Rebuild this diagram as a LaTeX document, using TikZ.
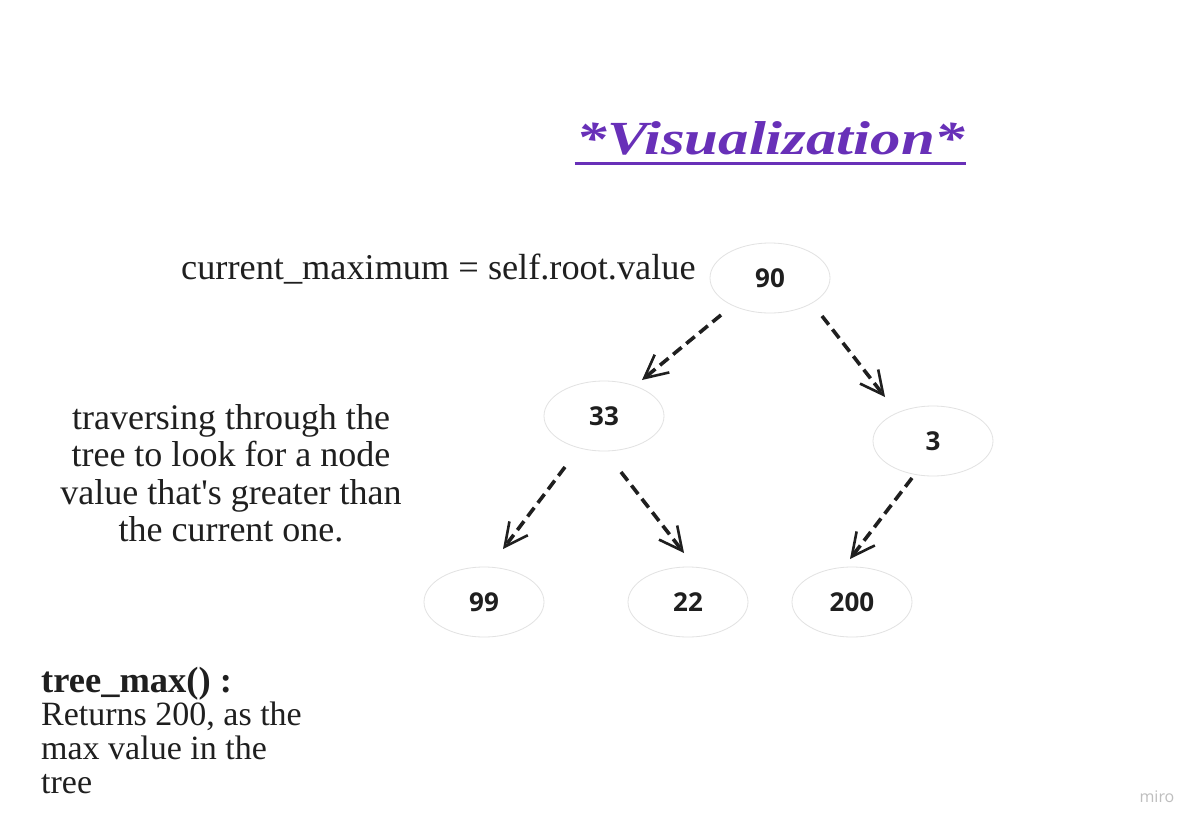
\documentclass[tikz,border=0pt]{standalone}
\usepackage{fontspec}
\setmainfont{Liberation Serif}
\newfontfamily\titlefont{Liberation Serif}[FakeStretch=1.28]
\newfontfamily\numfont{Open Sans}
\usetikzlibrary{arrows.meta,calc,shapes.geometric}
\definecolor{titlepurple}{RGB}{104,48,184}
\definecolor{ringgray}{RGB}{226,226,226}
\definecolor{wmgray}{RGB}{190,190,190}
\begin{document}
\begin{tikzpicture}[x=1pt,y=-1pt,
  treenode/.style={ellipse,draw=ringgray,line width=0.8pt,minimum width=120pt,minimum height=70pt,inner sep=0pt,
    font=\numfont\bfseries\fontsize{26}{30}\selectfont,text=black!88},
  link/.style={draw=black!88,line width=3.6pt,dash pattern=on 11pt off 6pt,
    -{Straight Barb[length=23pt,width=23pt,line width=2.6pt]}},
  plain/.style={inner sep=0pt,text=black!88}]
\useasboundingbox (0,0) rectangle (1203,830);
\fill[white] (0,0) rectangle (1203,830);
% title
\node[inner sep=0pt,anchor=base,text=titlepurple,font=\titlefont\bfseries\itshape\fontsize{47.5}{52}\selectfont] (title) at (771,154) {*Visualization*};
\draw[titlepurple,line width=3pt] ($(title.base west)+(-2,9)$) -- ($(title.base east)+(0,9)$);
% texts
\node[plain,anchor=base west,font=\fontsize{36.3}{40}\selectfont] (cur) at (181,279) {current\_maximum = self.root.value};
\node[plain,align=center,anchor=center,font=\fontsize{36}{37.5}\selectfont] (trav) at (231,473.5) {traversing through the\\tree to look for a node\\value that\textquotesingle s greater than\\the current one.};
\node[plain,anchor=base west,font=\bfseries\fontsize{36.5}{34}\selectfont] (tm) at (41,692) {tree\_max() :};
\node[plain,anchor=north west,align=left,font=\fontsize{34}{34}\selectfont] (ret) at ($(tm.base west)+(0,10)$) {Returns 200, as the\\max value in the\\tree};
\node[inner sep=0pt,text=wmgray,font=\numfont\fontsize{16}{18}\selectfont] (miro) at (1157,797) {miro};
% tree
\node[treenode] (n90) at (770,278) {90};
\node[treenode] (n33) at (604,416) {33};
\node[treenode] (n3) at (933,441) {3};
\node[treenode] (n99) at (484,602) {99};
\node[treenode] (n22) at (688,602) {22};
\node[treenode] (n200) at (852,602) {200};
\draw[link] ($(n90)+(-49,37)$) -- ($(n33)+(38,-36)$);
\draw[link] ($(n90)+(52,38)$) -- ($(n3)+(-48,-44)$);
\draw[link] ($(n33)+(-39,51)$) -- ($(n99)+(19,-53)$);
\draw[link] ($(n33)+(17,56)$) -- ($(n22)+(-4,-49)$);
\draw[link] ($(n3)+(-21,37)$) -- ($(n200)+(-2,-43)$);
\end{tikzpicture}
\end{document}
